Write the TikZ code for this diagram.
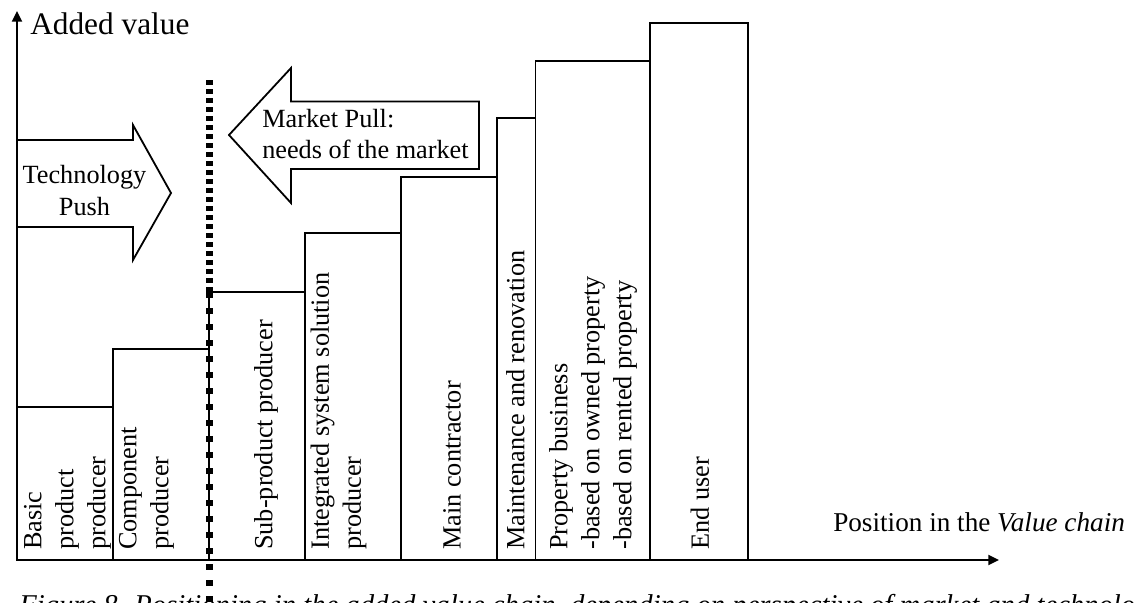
\documentclass[tikz,border=0pt]{standalone}
\usepackage{fontspec}
\setmainfont{Liberation Serif}
\usetikzlibrary{arrows.meta}
\begin{document}
\begin{tikzpicture}[x=0.75pt,y=-0.75pt,
  bar/.style={draw=black, line width=1.35pt},
  lbl/.style={inner sep=0pt, font=\fontsize{19.7}{24}\selectfont},
  vlbl/.style={lbl, rotate=90, anchor=west, align=left},
  axis/.style={line width=1.35pt, -{Triangle[length=8pt,width=7.5pt]}},
  bigarrow/.style={draw=black, fill=white, line width=1.35pt, line join=miter},
  dotsA/.style={line width=5.25pt, dash pattern=on 3.75pt off 3pt},
  dotsB/.style={line width=5.25pt, dash pattern=on 4.5pt off 7.5pt},
]
\useasboundingbox (0,0) rectangle (1136,603);

% axes
\coordinate (O) at (17,560);
\coordinate (Ytop) at (17,11);
\coordinate (Xend) at (999,560);
\draw[axis] (O) -- (Ytop);
\draw[axis] (O) -- (Xend);
\node[anchor=base west, inner sep=0pt, font=\fontsize{23.5}{28}\selectfont] (ylab) at (30,34) {Added value};
\node[anchor=base west, inner sep=0pt, font=\fontsize{20.4}{24}\selectfont] (xlab) at (833,531) {Position in the \textit{Value chain}};

% bars
\draw[bar] (17,560) rectangle (113,406.7);
\draw[bar] (113,560) rectangle (209,349);
\draw[bar] (209,560) rectangle (305,292);
\draw[bar] (305,560) rectangle (401,233);
\draw[bar] (401,560) rectangle (497,176.7);
\draw[bar] (497,560) rectangle (535.5,118);
\draw[bar] (535.5,560) rectangle (650,61);
\draw[bar] (650,560) rectangle (747.7,22.7);

% bar labels
\node[vlbl] (b1) at (67.5,550) {Basic\\product\\producer};
\node[vlbl] (b2) at (146.5,550) {Component\\producer};
\node[vlbl] (b3) at (266,550) {Sub-product producer};
\node[vlbl] (b4) at (338.5,550) {Integrated system solution\\producer};
\node[vlbl] (b5) at (452,550) {Main contractor};
\node[vlbl] (b6) at (515.5,550) {Maintenance and renovation};
\node[vlbl] (b7) at (593,550) {Property business\\-based on owned property\\-based on rented property};
\node[vlbl] (b8) at (700,550) {End user};

% technology push arrow
\draw[bigarrow] (17,140) -- (133,140) -- (133,125) -- (171,193) -- (133,260) -- (133,227) -- (17,227) -- cycle;
\node[lbl, anchor=base] (tp1) at (84.5,183) {Technology};
\node[lbl, anchor=base] (tp2) at (84.5,215) {Push};

% market pull arrow
\draw[bigarrow] (229,135) -- (291,68) -- (291,101.5) -- (479,101.5) -- (479,169) -- (291,169) -- (291,203) -- cycle;
\node[lbl, anchor=base west] (mp1) at (262,127) {Market Pull:};
\node[lbl, anchor=base west] (mp2) at (262,158) {needs of the market};

% dotted divider
\coordinate (D0) at (209,80);
\coordinate (D1) at (209,292);
\coordinate (D2) at (209,615);
\draw[dotsA] (D0) -- (D1);
\draw[dotsB] (D1) -- (D2);

% caption (cut by the page edge, as in the reference)
\node[anchor=base west, inner sep=0pt, font=\fontsize{21.5}{26}\selectfont\itshape] (cap) at (19,614) {Figure 8. Positioning in the added value chain, depending on perspective of market and technology};
\end{tikzpicture}
\end{document}
